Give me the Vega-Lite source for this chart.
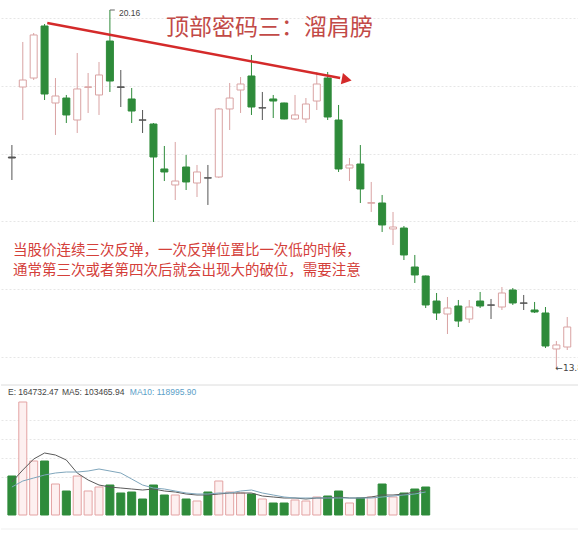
{
  "$schema": "https://vega.github.io/schema/vega-lite/v6.json",
  "padding": {"left": 0, "top": 0, "right": 0, "bottom": 25},
  "spacing": 0,
  "background": "white",
  "config": {
    "view": {"stroke": null},
    "axis": {"labels": false, "ticks": false, "domain": false, "grid": false}
  },
  "datasets": {
    "one": [{}],
    "k": [
      {"i": 1, "o": 17.558, "h": 17.77, "l": 17.151, "c": 17.54, "t": "flat", "v": 78000, "vt": "down", "m5": 66000, "m10": 56000},
      {"i": 2, "o": 18.797, "h": 19.594, "l": 18.213, "c": 18.921, "t": "up", "v": 226000, "vt": "up", "m5": 90000, "m10": 68000},
      {"i": 3, "o": 18.956, "h": 19.753, "l": 18.921, "c": 19.718, "t": "up", "v": 108000, "vt": "up", "m5": 112000, "m10": 74000},
      {"i": 4, "o": 19.877, "h": 19.912, "l": 18.567, "c": 18.673, "t": "down", "v": 108000, "vt": "down", "m5": 124000, "m10": 80000},
      {"i": 5, "o": 18.514, "h": 18.956, "l": 17.948, "c": 18.638, "t": "up", "v": 62000, "vt": "up", "m5": 120000, "m10": 84000},
      {"i": 6, "o": 18.602, "h": 18.656, "l": 18.16, "c": 18.302, "t": "down", "v": 48000, "vt": "down", "m5": 110000, "m10": 86000},
      {"i": 7, "o": 18.213, "h": 19.399, "l": 17.983, "c": 18.762, "t": "up", "v": 78000, "vt": "up", "m5": 84000, "m10": 86000},
      {"i": 8, "o": 18.79, "h": 19.045, "l": 18.337, "c": 18.8, "t": "up", "v": 48000, "vt": "up", "m5": 70000, "m10": 88000},
      {"i": 9, "o": 18.656, "h": 19.24, "l": 18.302, "c": 19.01, "t": "up", "v": 56000, "vt": "up", "m5": 60000, "m10": 92000},
      {"i": 10, "o": 19.611, "h": 20.16, "l": 18.709, "c": 18.903, "t": "down", "v": 60000, "vt": "down", "m5": 56000, "m10": 88000},
      {"i": 11, "o": 18.8, "h": 19.098, "l": 18.443, "c": 18.79, "t": "flat", "v": 44000, "vt": "down", "m5": 54000, "m10": 84000},
      {"i": 12, "o": 18.585, "h": 18.779, "l": 18.16, "c": 18.372, "t": "down", "v": 46000, "vt": "down", "m5": 52000, "m10": 72000},
      {"i": 13, "o": 18.215, "h": 18.39, "l": 17.983, "c": 18.21, "t": "flat", "v": 32000, "vt": "down", "m5": 50000, "m10": 60000},
      {"i": 14, "o": 18.142, "h": 18.16, "l": 16.408, "c": 17.558, "t": "down", "v": 60000, "vt": "down", "m5": 52000, "m10": 54000},
      {"i": 15, "o": 17.346, "h": 17.753, "l": 17.133, "c": 17.293, "t": "down", "v": 40000, "vt": "down", "m5": 48000, "m10": 52000},
      {"i": 16, "o": 17.063, "h": 17.824, "l": 16.797, "c": 17.133, "t": "up", "v": 40000, "vt": "up", "m5": 46000, "m10": 48000},
      {"i": 17, "o": 17.381, "h": 17.594, "l": 16.974, "c": 17.116, "t": "down", "v": 32000, "vt": "down", "m5": 42000, "m10": 44000},
      {"i": 18, "o": 17.098, "h": 17.417, "l": 16.85, "c": 17.293, "t": "up", "v": 28000, "vt": "up", "m5": 40000, "m10": 42000},
      {"i": 19, "o": 17.19, "h": 17.417, "l": 16.709, "c": 17.185, "t": "flat", "v": 46000, "vt": "down", "m5": 40000, "m10": 42000},
      {"i": 20, "o": 17.204, "h": 18.425, "l": 17.186, "c": 18.408, "t": "up", "v": 68000, "vt": "up", "m5": 42000, "m10": 44000},
      {"i": 21, "o": 18.408, "h": 18.868, "l": 18.036, "c": 18.602, "t": "up", "v": 46000, "vt": "up", "m5": 44000, "m10": 44000},
      {"i": 22, "o": 18.744, "h": 18.974, "l": 18.337, "c": 18.85, "t": "up", "v": 44000, "vt": "up", "m5": 44000, "m10": 48000},
      {"i": 23, "o": 18.992, "h": 19.364, "l": 18.302, "c": 18.443, "t": "down", "v": 42000, "vt": "down", "m5": 44000, "m10": 50000},
      {"i": 24, "o": 18.43, "h": 18.709, "l": 18.213, "c": 18.425, "t": "flat", "v": 32000, "vt": "up", "m5": 38000, "m10": 44000},
      {"i": 25, "o": 18.585, "h": 18.656, "l": 18.248, "c": 18.549, "t": "down", "v": 24000, "vt": "down", "m5": 36000, "m10": 40000},
      {"i": 26, "o": 18.514, "h": 18.52, "l": 18.225, "c": 18.231, "t": "down", "v": 24000, "vt": "down", "m5": 34000, "m10": 36000},
      {"i": 27, "o": 18.231, "h": 18.656, "l": 18.213, "c": 18.302, "t": "up", "v": 30000, "vt": "up", "m5": 34000, "m10": 34000},
      {"i": 28, "o": 18.231, "h": 18.602, "l": 18.16, "c": 18.496, "t": "up", "v": 28000, "vt": "up", "m5": 32000, "m10": 34000},
      {"i": 29, "o": 18.549, "h": 19.063, "l": 18.39, "c": 18.85, "t": "up", "v": 36000, "vt": "up", "m5": 34000, "m10": 34000},
      {"i": 30, "o": 18.956, "h": 19.063, "l": 18.213, "c": 18.266, "t": "down", "v": 38000, "vt": "down", "m5": 34000, "m10": 34000},
      {"i": 31, "o": 18.213, "h": 18.479, "l": 17.293, "c": 17.346, "t": "down", "v": 48000, "vt": "down", "m5": 36000, "m10": 34000},
      {"i": 32, "o": 17.363, "h": 17.54, "l": 17.133, "c": 17.417, "t": "up", "v": 24000, "vt": "up", "m5": 34000, "m10": 34000},
      {"i": 33, "o": 17.434, "h": 17.77, "l": 16.744, "c": 16.992, "t": "down", "v": 34000, "vt": "down", "m5": 34000, "m10": 34000},
      {"i": 34, "o": 16.74, "h": 17.116, "l": 16.585, "c": 16.75, "t": "up", "v": 36000, "vt": "up", "m5": 36000, "m10": 34000},
      {"i": 35, "o": 16.744, "h": 16.886, "l": 16.231, "c": 16.355, "t": "down", "v": 62000, "vt": "down", "m5": 40000, "m10": 36000},
      {"i": 36, "o": 16.284, "h": 16.585, "l": 16.0, "c": 16.319, "t": "up", "v": 36000, "vt": "up", "m5": 40000, "m10": 38000},
      {"i": 37, "o": 16.301, "h": 16.337, "l": 15.735, "c": 15.824, "t": "down", "v": 44000, "vt": "down", "m5": 42000, "m10": 40000},
      {"i": 38, "o": 15.611, "h": 15.824, "l": 15.328, "c": 15.47, "t": "down", "v": 52000, "vt": "down", "m5": 46000, "m10": 42000},
      {"i": 39, "o": 15.452, "h": 15.46, "l": 14.885, "c": 14.939, "t": "down", "v": 56000, "vt": "down", "m5": 50000, "m10": 46000},
      {"i": 40, "o": 15.009, "h": 15.151, "l": 14.673, "c": 14.797, "t": "down"},
      {"i": 41, "o": 14.779, "h": 15.08, "l": 14.425, "c": 14.885, "t": "up"},
      {"i": 42, "o": 14.921, "h": 15.027, "l": 14.549, "c": 14.655, "t": "down"},
      {"i": 43, "o": 14.691, "h": 15.027, "l": 14.62, "c": 14.903, "t": "up"},
      {"i": 44, "o": 15.009, "h": 15.169, "l": 14.885, "c": 14.921, "t": "down"},
      {"i": 45, "o": 14.94, "h": 15.045, "l": 14.691, "c": 14.935, "t": "flat"},
      {"i": 46, "o": 14.903, "h": 15.257, "l": 14.85, "c": 15.151, "t": "up"},
      {"i": 47, "o": 15.204, "h": 15.239, "l": 14.939, "c": 14.974, "t": "down"},
      {"i": 48, "o": 14.975, "h": 15.116, "l": 14.85, "c": 14.97, "t": "flat"},
      {"i": 49, "o": 14.85, "h": 14.992, "l": 14.797, "c": 14.815, "t": "down"},
      {"i": 50, "o": 14.797, "h": 14.903, "l": 14.177, "c": 14.213, "t": "down"},
      {"i": 51, "o": 14.16, "h": 14.301, "l": 13.823, "c": 14.231, "t": "up"},
      {"i": 52, "o": 14.195, "h": 14.726, "l": 14.142, "c": 14.549, "t": "up"}
    ]
  },
  "resolve": {"scale": {"x": "independent", "y": "independent", "fill": "independent", "stroke": "independent"}},
  "vconcat": [
    {
      "width": 578,
      "height": 380,
      "layer": [
        {
          "data": {"name": "k"},
          "mark": {"type": "rule", "strokeWidth": 1},
          "encoding": {
            "x": {"field": "i", "type": "quantitative", "title": null, "scale": {"domain": [0.4585, 52.62], "nice": false, "zero": false}},
            "y": {"field": "l", "type": "quantitative", "title": null,
                  "scale": {"domain": [13.611, 20.337], "nice": false, "zero": false},
                  "axis": {"grid": true, "values": [20.018, 19.418, 18.818, 18.218, 17.618, 17.018, 16.418, 15.818, 15.218, 14.618, 14.018], "gridColor": "#e6e6e6", "gridDash": [2, 2], "gridWidth": 1}},
            "y2": {"field": "h"},
            "stroke": {"field": "t", "type": "nominal", "legend": null,
                       "scale": {"domain": ["up", "down", "flat"], "range": ["#d9a3a3", "#2e8b3a", "#555555"]}}
          }
        },
        {
          "data": {"name": "k"},
          "mark": {"type": "bar", "size": 7, "strokeWidth": 1},
          "encoding": {
            "x": {"field": "i", "type": "quantitative", "title": null},
            "y": {"field": "o", "type": "quantitative", "title": null},
            "y2": {"field": "c"},
            "fill": {"field": "t", "type": "nominal", "legend": null,
                     "scale": {"domain": ["up", "down", "flat"], "range": ["#ffffff", "#2e8b3a", "#555555"]}},
            "stroke": {"field": "t", "type": "nominal", "legend": null}
          }
        },
        {
          "data": {"name": "one"},
          "mark": {"type": "rule", "stroke": "#d42a2a", "strokeWidth": 2.5},
          "encoding": {
            "x": {"datum": 4.249},
            "y": {"datum": 19.93},
            "x2": {"datum": 31.144},
            "y2": {"datum": 18.956}
          }
        },
        {
          "data": {"name": "one"},
          "mark": {"type": "point", "shape": "triangle-right", "filled": true, "fill": "#d42a2a", "opacity": 1, "size": 130, "angle": 10.5},
          "encoding": {
            "x": {"datum": 31.75},
            "y": {"datum": 18.93}
          }
        },
        {
          "data": {"name": "one"},
          "mark": {"type": "text", "font": "Noto Sans CJK SC", "fontSize": 23, "fill": "#c24a47", "align": "center", "baseline": "middle"},
          "encoding": {
            "x": {"datum": 24.646},
            "y": {"datum": 19.841},
            "text": {"value": "顶部密码三：溜肩膀"}
          }
        },
        {
          "data": {"name": "one"},
          "mark": {"type": "text", "font": "Noto Sans CJK SC", "fontSize": 14.5, "fill": "#d4403a", "align": "left", "baseline": "middle"},
          "encoding": {
            "x": {"datum": 1.09},
            "y": {"datum": 15.894},
            "text": {"value": "当股价连续三次反弹，一次反弹位置比一次低的时候，"}
          }
        },
        {
          "data": {"name": "one"},
          "mark": {"type": "text", "font": "Noto Sans CJK SC", "fontSize": 14.5, "fill": "#d4403a", "align": "left", "baseline": "middle"},
          "encoding": {
            "x": {"datum": 1.09},
            "y": {"datum": 15.54},
            "text": {"value": "通常第三次或者第四次后就会出现大的破位，需要注意"}
          }
        },
        {
          "data": {"name": "one"},
          "mark": {"type": "rule", "stroke": "#666666", "strokeWidth": 1},
          "encoding": {
            "x": {"datum": 10},
            "x2": {"datum": 10.45},
            "y": {"datum": 20.16}
          }
        },
        {
          "data": {"name": "one"},
          "mark": {"type": "text", "font": "Liberation Sans", "fontSize": 8.5, "fill": "#444444", "align": "left", "baseline": "middle", "dx": 9},
          "encoding": {
            "x": {"datum": 10},
            "y": {"datum": 20.107},
            "text": {"value": "20.16"}
          }
        },
        {
          "data": {"name": "one"},
          "mark": {"type": "text", "font": "DejaVu Sans", "fontSize": 9, "fill": "#444444", "align": "left", "baseline": "middle", "dx": -1, "clip": true},
          "encoding": {
            "x": {"datum": 51},
            "y": {"datum": 13.823},
            "text": {"value": "←13.82"}
          }
        }
      ]
    },
    {
      "width": 578,
      "height": 135,
      "layer": [
        {
          "data": {"name": "k"},
          "mark": {"type": "bar", "size": 8, "strokeWidth": 1},
          "encoding": {
            "x": {"field": "i", "type": "quantitative", "title": null, "scale": {"domain": [0.4585, 52.62], "nice": false, "zero": false}},
            "y": {"field": "v", "type": "quantitative", "title": null,
                  "scale": {"domain": [0, 270000], "nice": false},
                  "axis": {"grid": true, "values": [76000, 114000, 152000, 190000], "gridColor": "#e6e6e6", "gridDash": [2, 2], "gridWidth": 1}},
            "y2": {"datum": 0},
            "fill": {"field": "vt", "type": "nominal", "legend": null,
                     "scale": {"domain": ["up", "down"], "range": ["#fdf0f0", "#2e8b3a"]}},
            "stroke": {"field": "vt", "type": "nominal", "legend": null,
                       "scale": {"domain": ["up", "down"], "range": ["#e3a3a3", "#2e8b3a"]}}
          }
        },
        {
          "data": {"name": "k"},
          "mark": {"type": "line", "stroke": "#5a5a5a", "strokeWidth": 1},
          "encoding": {
            "x": {"field": "i", "type": "quantitative", "title": null},
            "y": {"field": "m5", "type": "quantitative", "title": null}
          }
        },
        {
          "data": {"name": "k"},
          "mark": {"type": "line", "stroke": "#7fa6bc", "strokeWidth": 1},
          "encoding": {
            "x": {"field": "i", "type": "quantitative", "title": null},
            "y": {"field": "m10", "type": "quantitative", "title": null}
          }
        },
        {
          "data": {"name": "one"},
          "mark": {"type": "rule", "stroke": "#dcdcdc", "strokeWidth": 1},
          "encoding": {"y": {"datum": 260000}}
        },
        {
          "data": {"name": "one"},
          "mark": {"type": "rule", "stroke": "#efefef", "strokeWidth": 1},
          "encoding": {"y": {"datum": -28000}}
        },
        {
          "data": {"name": "one"},
          "mark": {"type": "text", "font": "Liberation Sans", "fontSize": 8.5, "fill": "#444444", "align": "left", "baseline": "middle"},
          "encoding": {
            "x": {"datum": 0.639},
            "y": {"datum": 246000},
            "text": {"value": "E: 164732.47"}
          }
        },
        {
          "data": {"name": "one"},
          "mark": {"type": "text", "font": "Liberation Sans", "fontSize": 8.5, "fill": "#444444", "align": "left", "baseline": "middle"},
          "encoding": {
            "x": {"datum": 5.603},
            "y": {"datum": 246000},
            "text": {"value": "MA5: 103465.94"}
          }
        },
        {
          "data": {"name": "one"},
          "mark": {"type": "text", "font": "Liberation Sans", "fontSize": 8.5, "fill": "#5aa0c8", "align": "left", "baseline": "middle"},
          "encoding": {
            "x": {"datum": 11.83},
            "y": {"datum": 246000},
            "text": {"value": "MA10: 118995.90"}
          }
        }
      ]
    }
  ]
}
